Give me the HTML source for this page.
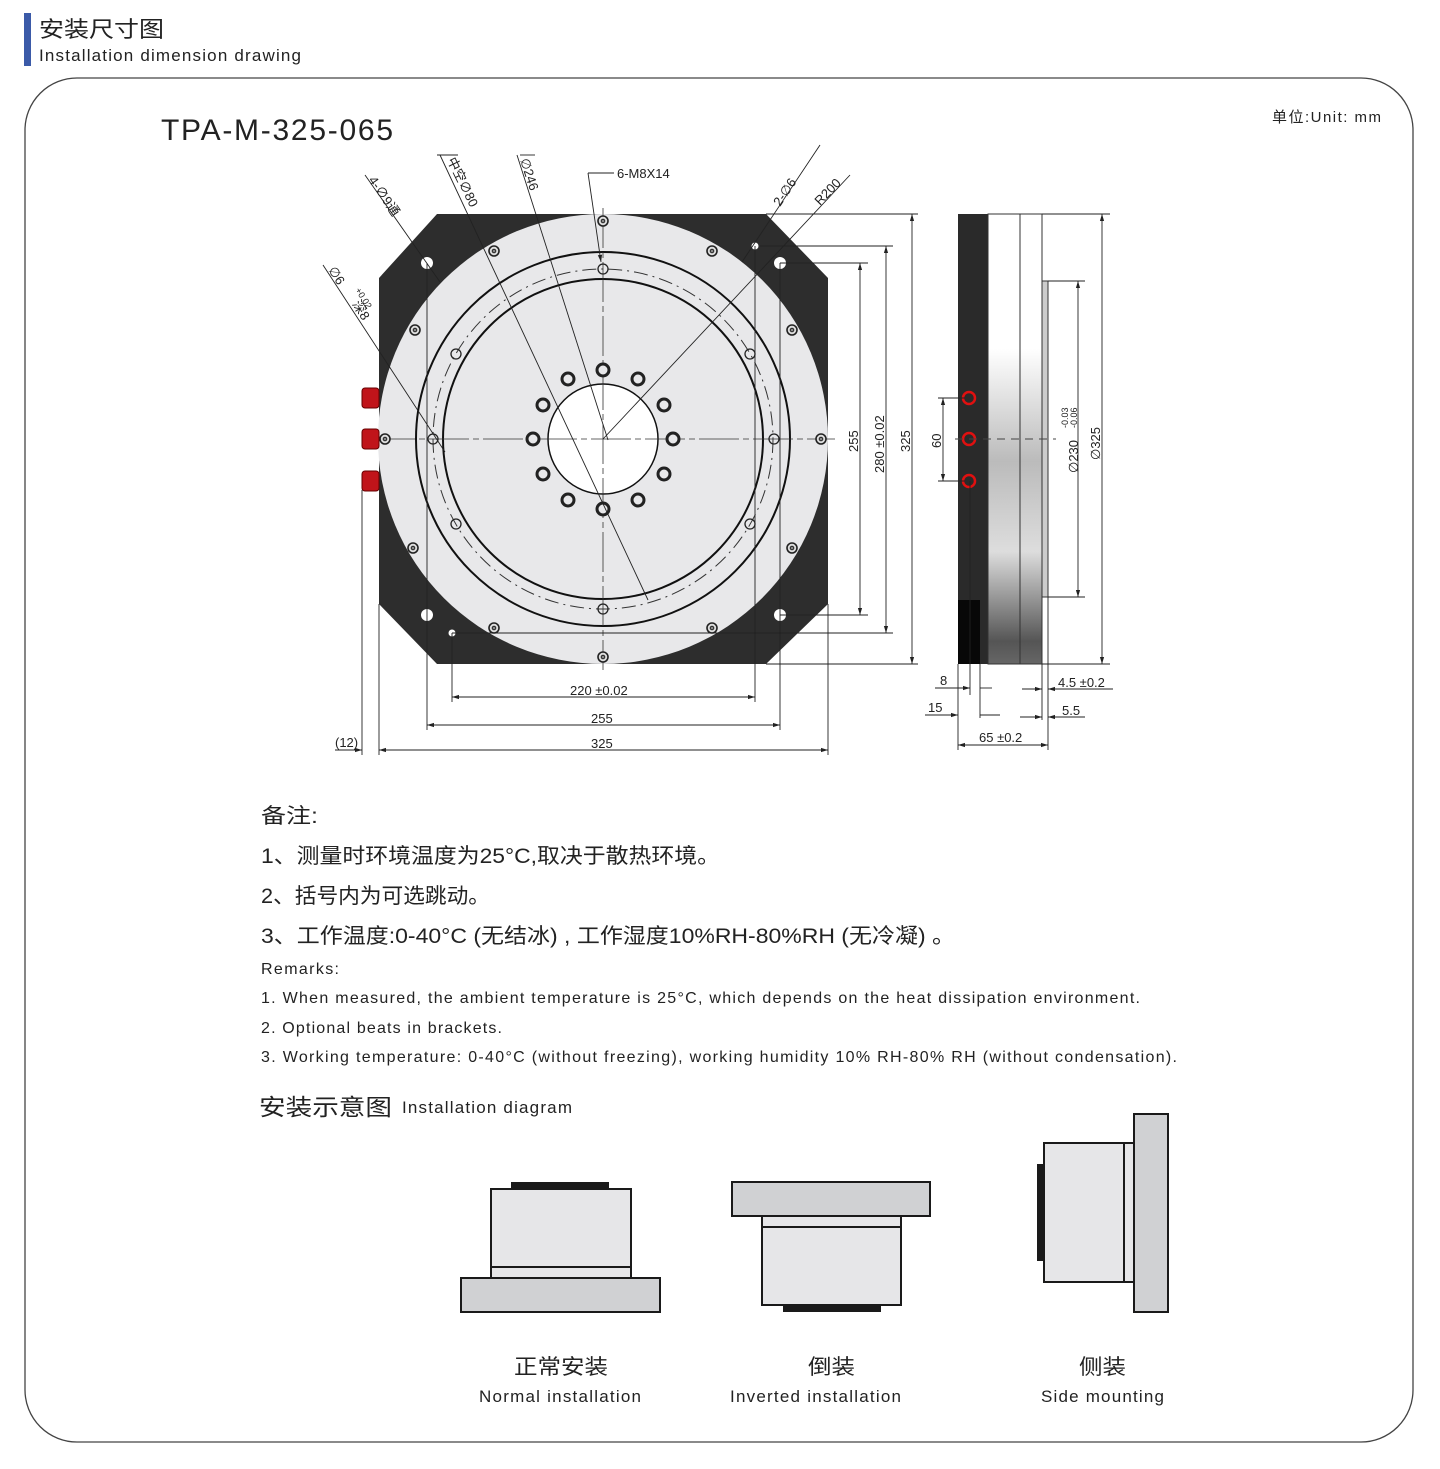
<!DOCTYPE html>
<html><head><meta charset="utf-8"><style>
html,body{margin:0;padding:0;background:#fff}
body{width:1440px;height:1469px;position:relative;overflow:hidden;font-family:"Liberation Sans","Noto Sans CJK SC",sans-serif}
svg{position:absolute;left:0;top:0}
.t{font-family:"Liberation Sans","Noto Sans CJK SC",sans-serif;fill:#222}
.d{font-family:"Liberation Sans",sans-serif;font-size:13px;fill:#222}
</style></head><body>
<svg width="1440" height="1469" viewBox="0 0 1440 1469">
<defs>
<marker id="a" viewBox="0 0 10 10" refX="10" refY="5" markerWidth="8" markerHeight="8" orient="auto-start-reverse"><path d="M0,2 L10,5 L0,8 z" fill="#222"/></marker>
</defs>
<rect x="24" y="13" width="7" height="53" fill="#3b5aa8"/>
<text x="39" y="37" class="t" font-size="22" textLength="125" lengthAdjust="spacingAndGlyphs">安装尺寸图</text>
<text x="39" y="61" class="t" font-size="17" textLength="262" lengthAdjust="spacing">Installation dimension drawing</text>
<rect x="25" y="78" width="1388" height="1364" rx="52" fill="none" stroke="#444" stroke-width="1.3"/>
<text x="161" y="140" class="t" font-size="30" textLength="232" lengthAdjust="spacing">TPA-M-325-065</text>
<text x="1272" y="122" class="t" font-size="15" textLength="109" lengthAdjust="spacing">单位:Unit: mm</text>

<!-- front body -->
<path d="M437,214 L766,214 L828,278 L828,604 L766,664 L437,664 L379,604 L379,278 Z" fill="#2d2d2d"/>
<circle cx="603" cy="439" r="225" fill="#e8e8ea"/>
<circle cx="603" cy="439" r="187" fill="none" stroke="#111" stroke-width="2"/>
<circle cx="603" cy="439" r="170" fill="none" stroke="#333" stroke-width="1" stroke-dasharray="14,5,2,5"/>
<circle cx="603" cy="439" r="160" fill="none" stroke="#111" stroke-width="2"/>
<circle cx="603" cy="439" r="55" fill="#fff" stroke="#111" stroke-width="1.5"/>
<g stroke="#333" stroke-width="0.8" fill="none">
<line x1="603" y1="208" x2="603" y2="670" stroke-dasharray="40,4,6,4"/>
<line x1="375" y1="439" x2="835" y2="439" stroke-dasharray="40,4,6,4"/>
</g>
<g fill="#ddd" stroke="#222" stroke-width="1.6">
<circle cx="603" cy="221" r="5"/><circle cx="494" cy="251" r="5"/><circle cx="712" cy="251" r="5"/>
<circle cx="415" cy="330" r="5"/><circle cx="792" cy="330" r="5"/><circle cx="385" cy="439" r="5"/><circle cx="821" cy="439" r="5"/>
<circle cx="413" cy="548" r="5"/><circle cx="792" cy="548" r="5"/><circle cx="494" cy="628" r="5"/><circle cx="712" cy="628" r="5"/><circle cx="603" cy="657" r="5"/>
</g>
<g fill="#888" stroke="#222" stroke-width="1">
<circle cx="603" cy="221" r="1.8"/><circle cx="494" cy="251" r="1.8"/><circle cx="712" cy="251" r="1.8"/>
<circle cx="415" cy="330" r="1.8"/><circle cx="792" cy="330" r="1.8"/><circle cx="385" cy="439" r="1.8"/><circle cx="821" cy="439" r="1.8"/>
<circle cx="413" cy="548" r="1.8"/><circle cx="792" cy="548" r="1.8"/><circle cx="494" cy="628" r="1.8"/><circle cx="712" cy="628" r="1.8"/><circle cx="603" cy="657" r="1.8"/>
</g>
<g fill="#e8e8ea" stroke="#222" stroke-width="3">
<circle cx="603" cy="370" r="6"/><circle cx="638" cy="379" r="6"/><circle cx="664" cy="405" r="6"/><circle cx="673" cy="439" r="6"/>
<circle cx="664" cy="474" r="6"/><circle cx="638" cy="500" r="6"/><circle cx="603" cy="509" r="6"/><circle cx="568" cy="500" r="6"/>
<circle cx="543" cy="474" r="6"/><circle cx="533" cy="439" r="6"/><circle cx="543" cy="405" r="6"/><circle cx="568" cy="379" r="6"/>
</g>
<g fill="none" stroke="#222" stroke-width="1.3">
<circle cx="603" cy="269" r="5"/><circle cx="456" cy="354" r="5"/><circle cx="750" cy="354" r="5"/><circle cx="433" cy="439" r="5"/>
<circle cx="774" cy="439" r="5"/><circle cx="456" cy="524" r="5"/><circle cx="750" cy="524" r="5"/><circle cx="603" cy="609" r="5"/>
</g>
<g fill="#fff">
<circle cx="427" cy="263" r="6"/><circle cx="780" cy="263" r="6"/><circle cx="427" cy="615" r="6"/><circle cx="780" cy="615" r="6"/>
<circle cx="755" cy="246" r="3.5"/><circle cx="452" cy="633" r="3.5"/>
</g>
<!-- connectors -->
<g fill="#c0141a" stroke="#600" stroke-width="1">
<rect x="362" y="388" width="17" height="20" rx="3"/><rect x="362" y="429" width="17" height="20" rx="3"/><rect x="362" y="471" width="17" height="20" rx="3"/>
</g>
<!-- leader lines -->
<g stroke="#222" stroke-width="0.9" fill="none">
<line x1="365" y1="175" x2="440" y2="282"/>
<line x1="440" y1="155" x2="648" y2="600" />
<line x1="517" y1="155" x2="608" y2="440"/>
<line x1="520" y1="155" x2="535" y2="155"/>
<line x1="588" y1="173" x2="614" y2="173"/>
<line x1="588" y1="173" x2="601" y2="262" marker-end="url(#a)"/>
<line x1="820" y1="145" x2="742" y2="262"/>
<line x1="850" y1="175" x2="603" y2="439"/>
<line x1="323" y1="265" x2="445" y2="452"/>
<line x1="437" y1="155" x2="458" y2="155"/>
</g>
<g class="d" font-size="13">
<text x="617" y="178">6-M8X14</text>
<text transform="translate(368,180) rotate(56)">4-∅9通</text>
<text transform="translate(447,160) rotate(64)">中空∅80</text>
<text transform="translate(520,160) rotate(72)">∅246</text>
<text transform="translate(780,207) rotate(-56)">2-∅6</text>
<text transform="translate(820,206) rotate(-46)">R200</text>
<text transform="translate(328,270) rotate(58)">∅6</text>
<text transform="translate(355,290) rotate(58)" font-size="9">+0.02</text>
<text transform="translate(352,304) rotate(58)">深8</text>
</g>
<!-- vertical dims -->
<g stroke="#222" stroke-width="0.9" fill="none">
<line x1="780" y1="263" x2="868" y2="263"/><line x1="780" y1="615" x2="868" y2="615"/>
<line x1="860" y1="263" x2="860" y2="615" marker-start="url(#a)" marker-end="url(#a)"/>
<line x1="760" y1="246" x2="893" y2="246"/><line x1="452" y1="633" x2="893" y2="633"/>
<line x1="886" y1="246" x2="886" y2="633" marker-start="url(#a)" marker-end="url(#a)"/>
<line x1="766" y1="214" x2="918" y2="214"/><line x1="766" y1="664" x2="918" y2="664"/>
<line x1="912" y1="214" x2="912" y2="664" marker-start="url(#a)" marker-end="url(#a)"/>
<line x1="452" y1="633" x2="452" y2="702"/><line x1="755" y1="246" x2="755" y2="702"/>
<line x1="452" y1="697" x2="755" y2="697" marker-start="url(#a)" marker-end="url(#a)"/>
<line x1="427" y1="263" x2="427" y2="730"/><line x1="780" y1="263" x2="780" y2="730"/>
<line x1="427" y1="725" x2="780" y2="725" marker-start="url(#a)" marker-end="url(#a)"/>
<line x1="379" y1="604" x2="379" y2="755"/><line x1="828" y1="604" x2="828" y2="755"/>
<line x1="379" y1="750" x2="828" y2="750" marker-start="url(#a)" marker-end="url(#a)"/>
<line x1="362" y1="490" x2="362" y2="755"/>
<line x1="335" y1="750" x2="362" y2="750" marker-end="url(#a)"/>
</g>
<g class="d">
<text transform="translate(858,452) rotate(-90)">255</text>
<text transform="translate(884,473) rotate(-90)">280 ±0.02</text>
<text transform="translate(910,452) rotate(-90)">325</text>
<text x="570" y="695">220 ±0.02</text>
<text x="591" y="723">255</text>
<text x="591" y="748">325</text>
<text x="335" y="747">(12)</text>
</g>

<!-- side view -->
<defs><linearGradient id="g" x1="0" y1="0" x2="0" y2="1">
<stop offset="0" stop-color="#fff"/><stop offset="0.3" stop-color="#fff"/><stop offset="0.55" stop-color="#bbb"/><stop offset="0.75" stop-color="#ddd"/><stop offset="0.95" stop-color="#555"/><stop offset="1" stop-color="#666"/></linearGradient></defs>
<rect x="958" y="214" width="30" height="450" fill="#2a2a2a"/>
<rect x="958" y="600" width="22" height="64" fill="#080808"/>
<rect x="988" y="214" width="32" height="450" fill="url(#g)" stroke="#333" stroke-width="1"/>
<rect x="1020" y="214" width="22" height="450" fill="url(#g)" stroke="#333" stroke-width="1"/>
<rect x="1042" y="281" width="6" height="316" fill="#ccc" stroke="#333"/>
<g fill="#2a2a2a" stroke="#e01010" stroke-width="2.5">
<circle cx="969" cy="398" r="6"/><circle cx="969" cy="439" r="6"/><circle cx="969" cy="481" r="6"/></g>
<line x1="955" y1="439" x2="1056" y2="439" stroke="#444" stroke-dasharray="8,6"/>
<g stroke="#222" stroke-width="0.9" fill="none">
<line x1="1042" y1="214" x2="1110" y2="214"/><line x1="1042" y1="664" x2="1110" y2="664"/>
<line x1="1102" y1="214" x2="1102" y2="664" marker-start="url(#a)" marker-end="url(#a)"/>
<line x1="1048" y1="281" x2="1085" y2="281"/><line x1="1048" y1="597" x2="1085" y2="597"/>
<line x1="1078" y1="281" x2="1078" y2="597" marker-start="url(#a)" marker-end="url(#a)"/>
<line x1="938" y1="398" x2="965" y2="398"/><line x1="938" y1="481" x2="965" y2="481"/>
<line x1="943" y1="398" x2="943" y2="481" marker-start="url(#a)" marker-end="url(#a)"/>
<line x1="958" y1="664" x2="958" y2="750"/><line x1="1048" y1="597" x2="1048" y2="750"/>
<line x1="958" y1="745" x2="1048" y2="745" marker-start="url(#a)" marker-end="url(#a)"/>
<line x1="970" y1="481" x2="970" y2="695"/><line x1="980" y1="664" x2="980" y2="718"/>
<line x1="935" y1="688" x2="970" y2="688" marker-end="url(#a)"/><line x1="980" y1="688" x2="992" y2="688"/>
<line x1="925" y1="715" x2="958" y2="715" marker-end="url(#a)"/><line x1="980" y1="715" x2="1000" y2="715"/>
<line x1="1042" y1="664" x2="1042" y2="720"/>
<line x1="1022" y1="689" x2="1042" y2="689" marker-end="url(#a)"/><line x1="1048" y1="689" x2="1113" y2="689" marker-start="url(#a)"/>
<line x1="1020" y1="717" x2="1042" y2="717" marker-end="url(#a)"/><line x1="1048" y1="717" x2="1085" y2="717" marker-start="url(#a)"/>
</g>
<g class="d">
<text transform="translate(941,448) rotate(-90)">60</text>
<text transform="translate(1078,473) rotate(-90)">∅230</text>
<text transform="translate(1068,428) rotate(-90)" font-size="9">-0.03</text>
<text transform="translate(1077,428) rotate(-90)" font-size="9">-0.06</text>
<text transform="translate(1100,460) rotate(-90)">∅325</text>
<text x="940" y="685">8</text><text x="928" y="712">15</text>
<text x="1058" y="687">4.5 ±0.2</text><text x="1062" y="715">5.5</text>
<text x="979" y="742">65 ±0.2</text>
</g>

<!-- notes -->
<g class="t">
<text x="261" y="823" font-size="21" textLength="57" lengthAdjust="spacingAndGlyphs">备注:</text>
<text x="261" y="863" font-size="21" textLength="459" lengthAdjust="spacingAndGlyphs">1、测量时环境温度为25°C,取决于散热环境。</text>
<text x="261" y="903" font-size="21" textLength="229" lengthAdjust="spacingAndGlyphs">2、括号内为可选跳动。</text>
<text x="261" y="943" font-size="21" textLength="694" lengthAdjust="spacingAndGlyphs">3、工作温度:0-40°C (无结冰) , 工作湿度10%RH-80%RH (无冷凝) 。</text>
<text x="261" y="974" font-size="16" textLength="78" lengthAdjust="spacing">Remarks:</text>
<text x="261" y="1003" font-size="16" textLength="879" lengthAdjust="spacing">1. When measured, the ambient temperature is 25°C, which depends on the heat dissipation environment.</text>
<text x="261" y="1033" font-size="16" textLength="241" lengthAdjust="spacing">2. Optional beats in brackets.</text>
<text x="261" y="1062" font-size="16" textLength="916" lengthAdjust="spacing">3. Working temperature: 0-40°C (without freezing), working humidity 10% RH-80% RH (without condensation).</text>
<text x="259" y="1115" font-size="23" textLength="133" lengthAdjust="spacingAndGlyphs">安装示意图</text>
<text x="402" y="1113" font-size="17" textLength="170" lengthAdjust="spacing">Installation diagram</text>
</g>

<!-- install diagrams -->
<g stroke="#1a1a1a" stroke-width="2">
<rect x="512" y="1183" width="96" height="6" fill="#1a1a1a"/>
<rect x="491" y="1189" width="140" height="89" fill="#e6e6e8"/>
<line x1="491" y1="1267" x2="631" y2="1267"/>
<rect x="461" y="1278" width="199" height="34" fill="#d0d1d3"/>
<rect x="732" y="1182" width="198" height="34" fill="#d0d1d3"/>
<rect x="762" y="1216" width="139" height="89" fill="#e6e6e8"/>
<line x1="762" y1="1227" x2="901" y2="1227"/>
<rect x="784" y="1305" width="96" height="6" fill="#1a1a1a"/>
<rect x="1134" y="1114" width="34" height="198" fill="#d0d1d3"/>
<rect x="1044" y="1143" width="90" height="139" fill="#e6e6e8"/>
<line x1="1124" y1="1143" x2="1124" y2="1282"/>
<rect x="1038" y="1165" width="6" height="95" fill="#1a1a1a"/>
</g>
<g class="t">
<text x="514" y="1374" font-size="21" textLength="94" lengthAdjust="spacingAndGlyphs">正常安装</text>
<text x="479" y="1402" font-size="17" textLength="162" lengthAdjust="spacing">Normal installation</text>
<text x="808" y="1374" font-size="21" textLength="47" lengthAdjust="spacingAndGlyphs">倒装</text>
<text x="730" y="1402" font-size="17" textLength="171" lengthAdjust="spacing">Inverted installation</text>
<text x="1079" y="1374" font-size="21" textLength="47" lengthAdjust="spacingAndGlyphs">侧装</text>
<text x="1041" y="1402" font-size="17" textLength="123" lengthAdjust="spacing">Side mounting</text>
</g>
</svg>
</body></html>
